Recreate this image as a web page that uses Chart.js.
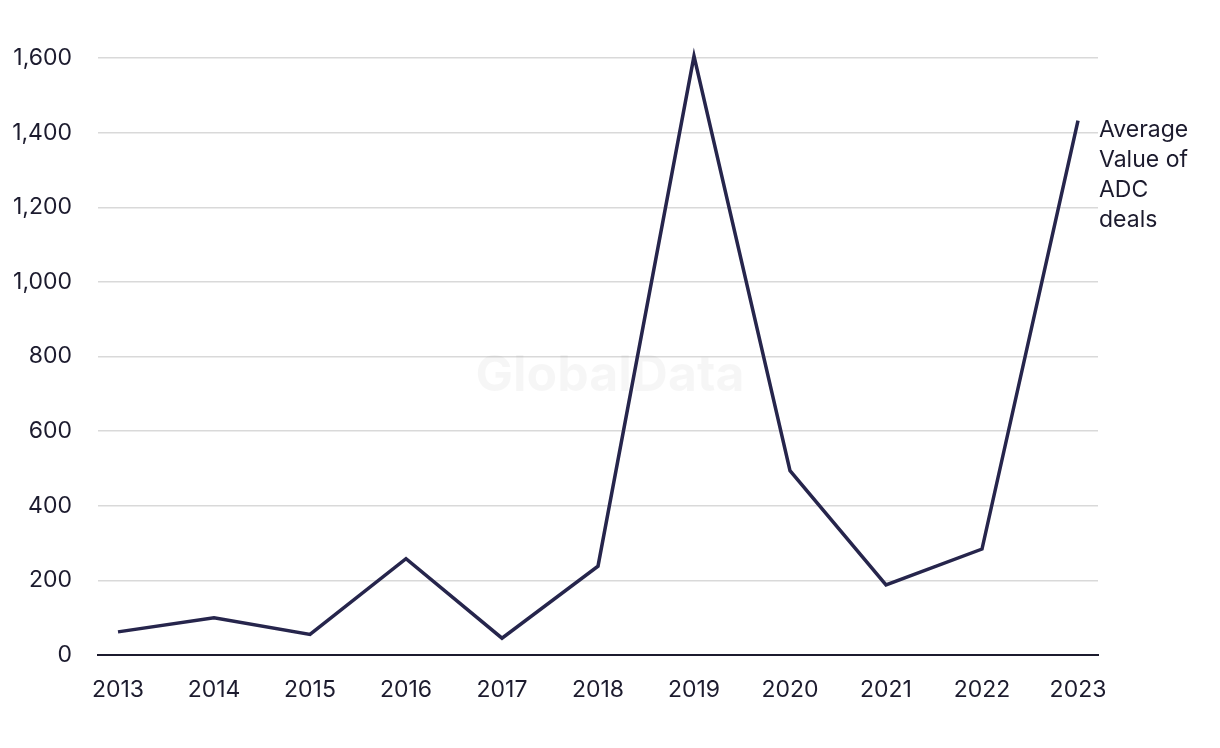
<!DOCTYPE html>
<html>
<head>
<meta charset="utf-8">
<script src="https://cdn.jsdelivr.net/npm/chart.js@4"></script>
<style>
  html, body { margin: 0; padding: 0; background: #fff; }
  #wrap { width: 1220px; height: 748px; }
</style>
</head>
<body>
<div id="wrap"><canvas id="dealsChart" width="1220" height="748"></canvas></div>
<script>
// ── Data ─────────────────────────────────────────────────────────────────────
const years = [2013, 2014, 2015, 2016, 2017, 2018, 2019, 2020, 2021, 2022, 2023];
const avgValues = [62, 100, 55, 258, 45, 238, 1605, 494, 188, 284, 1432];
const yTicks = [0, 200, 400, 600, 800, 1000, 1200, 1400, 1600];
const seriesLabel = ['Average', 'Value of', 'ADC', 'deals'];

const INK = '#1c1b2e';
const LINE = '#26254c';
const FONT = 'Inter, "Noto Sans", sans-serif';

// ── Plugins ──────────────────────────────────────────────────────────────────

// faint watermark behind everything
const watermark = {
    id: 'watermark',
    beforeDatasetsDraw(chart) {
        const { ctx, chartArea } = chart;
        ctx.save();
        ctx.font = 'bold 50px ' + FONT;
        ctx.fillStyle = 'rgba(0,0,0,0.035)';
        ctx.textAlign = 'center';
        ctx.textBaseline = 'middle';
        ctx.fillText('GlobalData', (chartArea.left + chartArea.right) / 2 + 12, 376);
        ctx.restore();
    }
};

// series name next to the last point
const endLabel = {
    id: 'endLabel',
    afterDatasetsDraw(chart) {
        const meta = chart.getDatasetMeta(0);
        const last = meta.data[meta.data.length - 1];
        if (!last) return;
        const { ctx } = chart;
        ctx.save();
        ctx.font = '23px ' + FONT;
        ctx.fillStyle = INK;
        ctx.textAlign = 'left';
        ctx.textBaseline = 'middle';
        seriesLabel.forEach((s, i) => ctx.fillText(s, last.x + 21, last.y + 9 + i * 30));
        ctx.restore();
    }
};

// ── Chart ────────────────────────────────────────────────────────────────────

const ctx = document.getElementById('dealsChart').getContext('2d');
new Chart(ctx, {
    type: 'line',
    data: {
        datasets: [{
            label: 'Average Value of ADC deals',
            data: years.map((y, i) => ({ x: y, y: avgValues[i] })),
            borderColor: LINE,
            borderWidth: 3.5,
            pointRadius: 0,
            tension: 0,
            fill: false,
            clip: false
        }]
    },
    options: {
        responsive: false,
        animation: false,
        layout: { padding: { top: 58, right: 122, left: 0, bottom: 0 } },
        plugins: {
            legend: { display: false },
            tooltip: { enabled: false }
        },
        scales: {
            x: {
                type: 'linear',
                min: 2013 - 20 / 96,
                max: 2023 + 20 / 96,
                afterBuildTicks: s => { s.ticks = years.map(v => ({ value: v })); },
                afterFit: s => { s.height = 93; },
                grid: { display: false, drawTicks: false },
                border: { display: true, color: INK, width: 2 },
                ticks: {
                    color: INK,
                    font: { family: FONT, size: 23 },
                    padding: 21,
                    maxRotation: 0,
                    autoSkip: false,
                    callback: v => String(v)
                }
            },
            y: {
                min: 0,
                max: 1600,
                afterBuildTicks: s => { s.ticks = yTicks.map(v => ({ value: v })); },
                afterFit: s => { s.width = 98; },
                grid: { color: '#d9d9d9', lineWidth: 1.5, drawTicks: false },
                border: { display: false },
                ticks: {
                    color: INK,
                    font: { family: FONT, size: 23 },
                    padding: 26,
                    callback: v => v.toLocaleString('en-US')
                }
            }
        }
    },
    plugins: [watermark, endLabel]
});
</script>
</body>
</html>
